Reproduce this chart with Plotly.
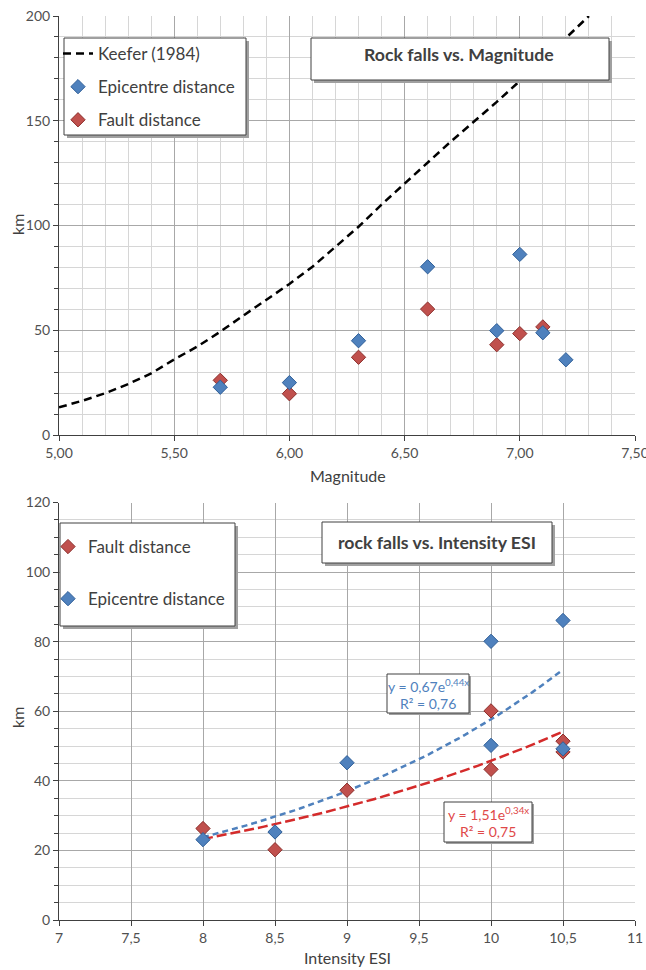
import numpy as np
import plotly.graph_objects as go

# ---------------- data ----------------
# Chart 1: rock falls vs magnitude
mag_epi = [5.7, 6.0, 6.3, 6.6, 6.9, 7.0, 7.1, 7.2]
epi_km_mag = [22.8, 25.0, 45.0, 80.3, 49.8, 86.2, 48.8, 35.9]
mag_fault = [5.7, 6.0, 6.3, 6.6, 6.9, 7.0, 7.1]
fault_km_mag = [26.1, 19.7, 37.1, 60.1, 43.1, 48.4, 51.6]

keefer_mag = [5.0, 5.1, 5.2, 5.3, 5.4, 5.5, 5.6, 5.7, 5.8, 5.9, 6.0, 6.1,
              6.2, 6.3, 6.4, 6.5, 6.6, 6.7, 6.8, 6.9, 7.0, 7.1, 7.2, 7.3]
keefer_km = [13.2, 16.3, 19.9, 24.3, 29.4, 36.1, 42.2, 49.3, 57.0, 64.4, 72.1, 80.3,
             89.9, 99.4, 110.0, 120.0, 130.0, 140.0, 149.5, 159.0, 169.0, 179.0, 189.5, 200.0]

# Chart 2: rock falls vs intensity ESI
esi_fault = [8, 8.5, 9, 10, 10, 10.5, 10.5]
fault_km_esi = [26.3, 20.2, 37.3, 60.1, 43.3, 51.4, 48.3]
esi_epi = [8, 8.5, 9, 10, 10, 10.5, 10.5]
epi_km_esi = [23.1, 25.3, 45.2, 80.1, 50.2, 86.1, 49.2]

eq_epi = ["y = 0,67e<sup>0,44x</sup>", "R² = 0,76"]
eq_fault = ["y = 1,51e<sup>0,34x</sup>", "R² = 0,75"]

# ---------------- style ----------------
FONT = "Lato, Carlito, Calibri, sans-serif"
TXT = "#404040"
TICK = "#505050"
BLUE = "#4f81bd"
BLUE_D = "#2f5f98"
RED = "#c0504d"
RED_D = "#8c2f2c"
GRID_MAJ = "#a8a8a8"
GRID_MIN = "#d6d6d6"

W, H = 646, 970
ML, MR, MT, MB = 59, 11, 16, 50
PW, PH = W - ML - MR, H - MT - MB


def px(x):
    return (x - ML) / PW


def py(y):
    return (H - MB - y) / PH


top_dom = [py(435), 1.0]
bot_dom = [0.0, py(502.5)]

fig = go.Figure()

# Chart 1 traces
fig.add_trace(go.Scatter(
    x=keefer_mag, y=keefer_km, mode="lines", name="Keefer (1984)",
    line=dict(color="black", width=2.5, dash="8px,5px"),
    xaxis="x", yaxis="y", legend="legend", legendgroup="k", legendrank=1))
fig.add_trace(go.Scatter(
    x=mag_fault, y=fault_km_mag, mode="markers", name="Fault distance",
    marker=dict(symbol="diamond", size=11, color=RED, line=dict(color=RED_D, width=1)),
    xaxis="x", yaxis="y", legend="legend", legendgroup="f", legendrank=3))
fig.add_trace(go.Scatter(
    x=mag_epi, y=epi_km_mag, mode="markers", name="Epicentre distance",
    marker=dict(symbol="diamond", size=11, color=BLUE, line=dict(color=BLUE_D, width=1)),
    xaxis="x", yaxis="y", legend="legend", legendgroup="e", legendrank=2))


def expfit(xs, ys):
    b, lna = np.polyfit(np.array(xs, float), np.log(np.array(ys, float)), 1)
    xx = np.linspace(min(xs), max(xs), 60)
    return xx, np.exp(lna) * np.exp(b * xx)


xe, ye = expfit(esi_epi, epi_km_esi)
xf, yf = expfit(esi_fault, fault_km_esi)

fig.add_trace(go.Scatter(
    x=xe, y=ye, mode="lines", showlegend=False, hoverinfo="skip",
    line=dict(color=BLUE, width=2.5, dash="6px,4px"), xaxis="x2", yaxis="y2"))
fig.add_trace(go.Scatter(
    x=xf, y=yf, mode="lines", showlegend=False, hoverinfo="skip",
    line=dict(color="#d42b2b", width=2.5, dash="10px,4px"), xaxis="x2", yaxis="y2"))

fig.add_trace(go.Scatter(
    x=esi_fault, y=fault_km_esi, mode="markers", name="Fault distance",
    marker=dict(symbol="diamond", size=11, color=RED, line=dict(color=RED_D, width=1)),
    xaxis="x2", yaxis="y2", legend="legend2", legendgroup="f2", legendrank=1))
fig.add_trace(go.Scatter(
    x=esi_epi, y=epi_km_esi, mode="markers", name="Epicentre distance",
    marker=dict(symbol="diamond", size=11, color=BLUE, line=dict(color=BLUE_D, width=1)),
    xaxis="x2", yaxis="y2", legend="legend2", legendgroup="e2", legendrank=2))

axis_common = dict(
    showline=True, linecolor=TXT, linewidth=1, ticks="outside", ticklen=5,
    tickcolor=TXT, tickfont=dict(size=14, color=TICK, family=FONT),
    showgrid=True, gridcolor=GRID_MAJ, gridwidth=1, zeroline=False,
    automargin=False,
)

fig.update_layout(
    width=W, height=H,
    margin=dict(l=ML, r=MR, t=MT, b=MB, autoexpand=False),
    paper_bgcolor="white", plot_bgcolor="white",
    separators=",.", font=dict(family=FONT, color=TXT),
    xaxis=dict(domain=[0, 1], range=[5, 7.5], dtick=0.5, tickformat=".2f",
               anchor="y", minor=dict(dtick=0.1, showgrid=True, gridcolor=GRID_MIN),
               ticklabeloverflow="allow", **axis_common),
    yaxis=dict(domain=top_dom, range=[0, 200], dtick=50, anchor="x",
               minor=dict(dtick=10, showgrid=True, gridcolor=GRID_MIN,
                          ticks="outside", ticklen=4, tickcolor=TXT),
               **axis_common),
    xaxis2=dict(domain=[0, 1], range=[7, 11], dtick=0.5, anchor="y2",
                ticklabeloverflow="allow", **axis_common),
    yaxis2=dict(domain=bot_dom, range=[0, 120], dtick=20, anchor="x2",
                minor=dict(dtick=5, showgrid=True, gridcolor=GRID_MIN,
                           ticks="outside", ticklen=4, tickcolor=TXT),
                **axis_common),
    legend=dict(x=px(58), y=py(36), xanchor="left", yanchor="top",
                bgcolor="rgba(0,0,0,0)", borderwidth=0,
                font=dict(size=17, color=TXT, family=FONT),
                traceorder="grouped", tracegroupgap=8, itemwidth=30),
    legend2=dict(x=px(48), y=py(529), xanchor="left", yanchor="top",
                 bgcolor="rgba(0,0,0,0)", borderwidth=0,
                 font=dict(size=17, color=TXT, family=FONT),
                 traceorder="grouped", tracegroupgap=27, itemwidth=30),
)

shapes = []


def box(x0, y0, x1, y1, shadow=3):
    shapes.append(dict(type="rect", xref="paper", yref="paper", layer="above",
                       x0=px(x0 + shadow), x1=px(x1 + shadow),
                       y0=py(y1 + shadow), y1=py(y0 + shadow),
                       fillcolor="#a0a0a0", line=dict(width=0)))
    shapes.append(dict(type="rect", xref="paper", yref="paper", layer="above",
                       x0=px(x0), x1=px(x1), y0=py(y1), y1=py(y0),
                       fillcolor="white", line=dict(color=TXT, width=1)))


box(64, 38, 246, 135)      # top legend
box(311, 38, 609, 80)      # top title
box(60, 523, 235, 626)     # bottom legend
box(322, 522, 552, 563)    # bottom title
box(387, 674, 469, 713, 2)  # blue equation
box(444, 802, 532, 842, 2)  # red equation
fig.update_layout(shapes=shapes)

ann = []


def text(x, y, s, size=15, color=TXT, bold=False, angle=0):
    if bold:
        s = "<b>" + s + "</b>"
    ann.append(dict(x=px(x), y=py(y), xref="paper", yref="paper", text=s,
                    showarrow=False, textangle=angle, xanchor="center", yanchor="middle",
                    font=dict(size=size, color=color, family=FONT)))


text(459, 54, "Rock falls vs. Magnitude", size=17.7, bold=True)
text(437, 542, "rock falls vs. Intensity ESI", size=17.7, bold=True)
text(348, 475, "Magnitude", size=16)
text(347, 957, "Intensity ESI", size=16)
text(17, 225, "km", size=16, angle=-90)
text(17, 718, "km", size=16, angle=-90)
text(428, 685, eq_epi[0], size=14, color=BLUE)
text(428, 703, eq_epi[1], size=14, color=BLUE)
text(488, 813, eq_fault[0], size=14, color="#e04848")
text(488, 831, eq_fault[1], size=14, color="#e04848")
fig.update_layout(annotations=ann)

fig.write_html(
    "out.html",
    config={"displayModeBar": False},
    post_script="document.body.style.margin='0px';document.body.style.overflow='hidden';",
)
